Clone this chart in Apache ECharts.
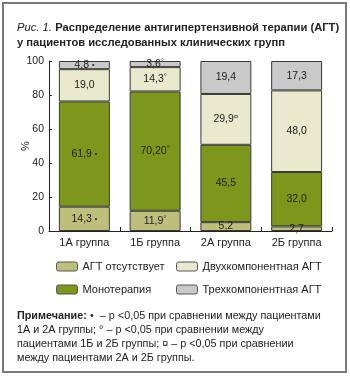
<!DOCTYPE html>
<html><head><meta charset="utf-8">
<script src="https://cdn.jsdelivr.net/npm/echarts@6/dist/echarts.min.js"></script>
<style>html,body{margin:0;padding:0;background:#fff}#c{width:350px;height:376px}</style>
</head><body><div id="c"></div>
<script>
var categories = ['1А группа', '1Б группа', '2А группа', '2Б группа'];
var seriesNames = ['АГТ отсутствует', 'Монотерапия', 'Двухкомпонентная АГТ', 'Трехкомпонентная АГТ'];
var noneValues = [14.3, 11.9, 5.2, 2.7];
var monoValues = [61.9, 70.2, 45.5, 32.0];
var dualValues = [19.0, 14.3, 29.9, 48.0];
var tripleValues = [4.8, 3.6, 19.4, 17.3];
var noneLabels = ['14,3', '11,9', '5,2', '2,7'];
var monoLabels = ['61,9', '70,20', '45,5', '32,0'];
var dualLabels = ['19,0', '14,3', '29,9', '48,0'];
var tripleLabels = ['4,8', '3,6', '19,4', '17,3'];
var noneMarks = ['dot', 'deg', '', ''];
var monoMarks = ['dot', 'deg', '', ''];
var dualMarks = ['', 'deg', 'box', ''];
var tripleMarks = ['dot', 'deg', '', ''];
var yTicks = [0, 20, 40, 60, 80, 100];
var colors = ['#bcc07a', '#7d961c', '#e9e9cd', '#c9c9c9'];

var markText = {dot: ' {dot|•}', deg: '{sup|°}', box: '{sup|¤}', '': ''};
var rich = {
  dot: {fontSize: 7, fontFamily: 'Liberation Sans', color: '#222'},
  sup: {fontSize: 8, fontFamily: 'Liberation Sans', color: '#222', padding: [0, 0, 5, 0]}
};

function mk(name, vals, labs, marks, color) {
  return {
    name: name, type: 'bar', stack: 'a', barWidth: '72%',
    itemStyle: {color: color, borderColor: '#3a3a3a', borderWidth: 1},
    label: {
      show: true, position: 'inside', fontFamily: 'Liberation Sans', fontSize: 10.5, color: '#222',
      formatter: function (p) { return labs[p.dataIndex] + markText[marks[p.dataIndex]]; },
      rich: rich
    },
    data: vals
  };
}

var chart = echarts.init(document.getElementById('c'), null, {renderer: 'canvas'});
chart.setOption({
  animation: false,
  grid: {left: 49, right: 18, top: 61, bottom: 145},
  xAxis: {
    type: 'category', data: categories,
    axisLine: {lineStyle: {color: '#222', width: 1}},
    axisTick: {show: true, inside: true, length: 4, lineStyle: {color: '#222'}},
    axisLabel: {fontFamily: 'Liberation Sans', fontSize: 11, color: '#222', margin: 6}
  },
  yAxis: {
    type: 'value', min: 0, max: 100, interval: 20,
    name: '%', nameLocation: 'middle', nameGap: 18, nameMoveOverlap: false,
    nameTextStyle: {fontFamily: 'Liberation Sans', fontSize: 11, color: '#222'},
    axisLine: {show: true, lineStyle: {color: '#222', width: 1}},
    axisTick: {show: true, inside: true, length: 3, lineStyle: {color: '#222'}},
    axisLabel: {fontFamily: 'Liberation Sans', fontSize: 10.5, color: '#222', margin: 5,
      formatter: function (v) { return yTicks.indexOf(v) >= 0 ? String(v) : ''; }},
    splitLine: {show: false}
  },
  legend: [{
    left: 51, top: 256, orient: 'vertical', itemWidth: 21, itemHeight: 9, itemGap: 12,
    data: [seriesNames[0], seriesNames[1]],
    itemStyle: {borderColor: '#555', borderWidth: 1},
    textStyle: {fontFamily: 'Liberation Sans', fontSize: 11, color: '#222'}
  }, {
    left: 171, top: 256, orient: 'vertical', itemWidth: 21, itemHeight: 9, itemGap: 12,
    data: [seriesNames[2], seriesNames[3]],
    itemStyle: {borderColor: '#555', borderWidth: 1},
    textStyle: {fontFamily: 'Liberation Sans', fontSize: 11, color: '#222'}
  }],
  series: [
    mk(seriesNames[0], noneValues, noneLabels, noneMarks, colors[0]),
    mk(seriesNames[1], monoValues, monoLabels, monoMarks, colors[1]),
    mk(seriesNames[2], dualValues, dualLabels, dualMarks, colors[2]),
    mk(seriesNames[3], tripleValues, tripleLabels, tripleMarks, colors[3])
  ],
  graphic: [
    {type: 'rect', shape: {x: 3, y: 3, width: 343, height: 369},
      style: {fill: 'none', stroke: '#7a7a7a', lineWidth: 2}, silent: true},
    {type: 'text', left: 17, top: 22, style: {
      text: '{i|Рис. 1.} {b|Распределение антигипертензивной терапии (АГТ)}\n{b|у пациентов исследованных клинических групп}',
      rich: {
        i: {fontFamily: 'Liberation Sans', fontStyle: 'italic', fontSize: 11.2, fill: '#222', lineHeight: 15},
        b: {fontFamily: 'Liberation Sans', fontWeight: 'bold', fontSize: 11.2, fill: '#222', lineHeight: 15}
      }}},
    {type: 'text', left: 17, top: 310, style: {
      text: '{b|Примечание:} {r|•  – р <0,05 при сравнении между пациентами}\n{r|1А и 2А группы; ° – р <0,05 при сравнении между}\n{r|пациентами 1Б и 2Б группы; ¤ – р <0,05 при сравнении}\n{r|между пациентами 2А и 2Б группы.}',
      rich: {
        b: {fontFamily: 'Liberation Sans', fontWeight: 'bold', fontSize: 10.8, fill: '#222', lineHeight: 14},
        r: {fontFamily: 'Liberation Sans', fontSize: 10.8, fill: '#222', lineHeight: 14}
      }}}
  ]
});
</script></body></html>
